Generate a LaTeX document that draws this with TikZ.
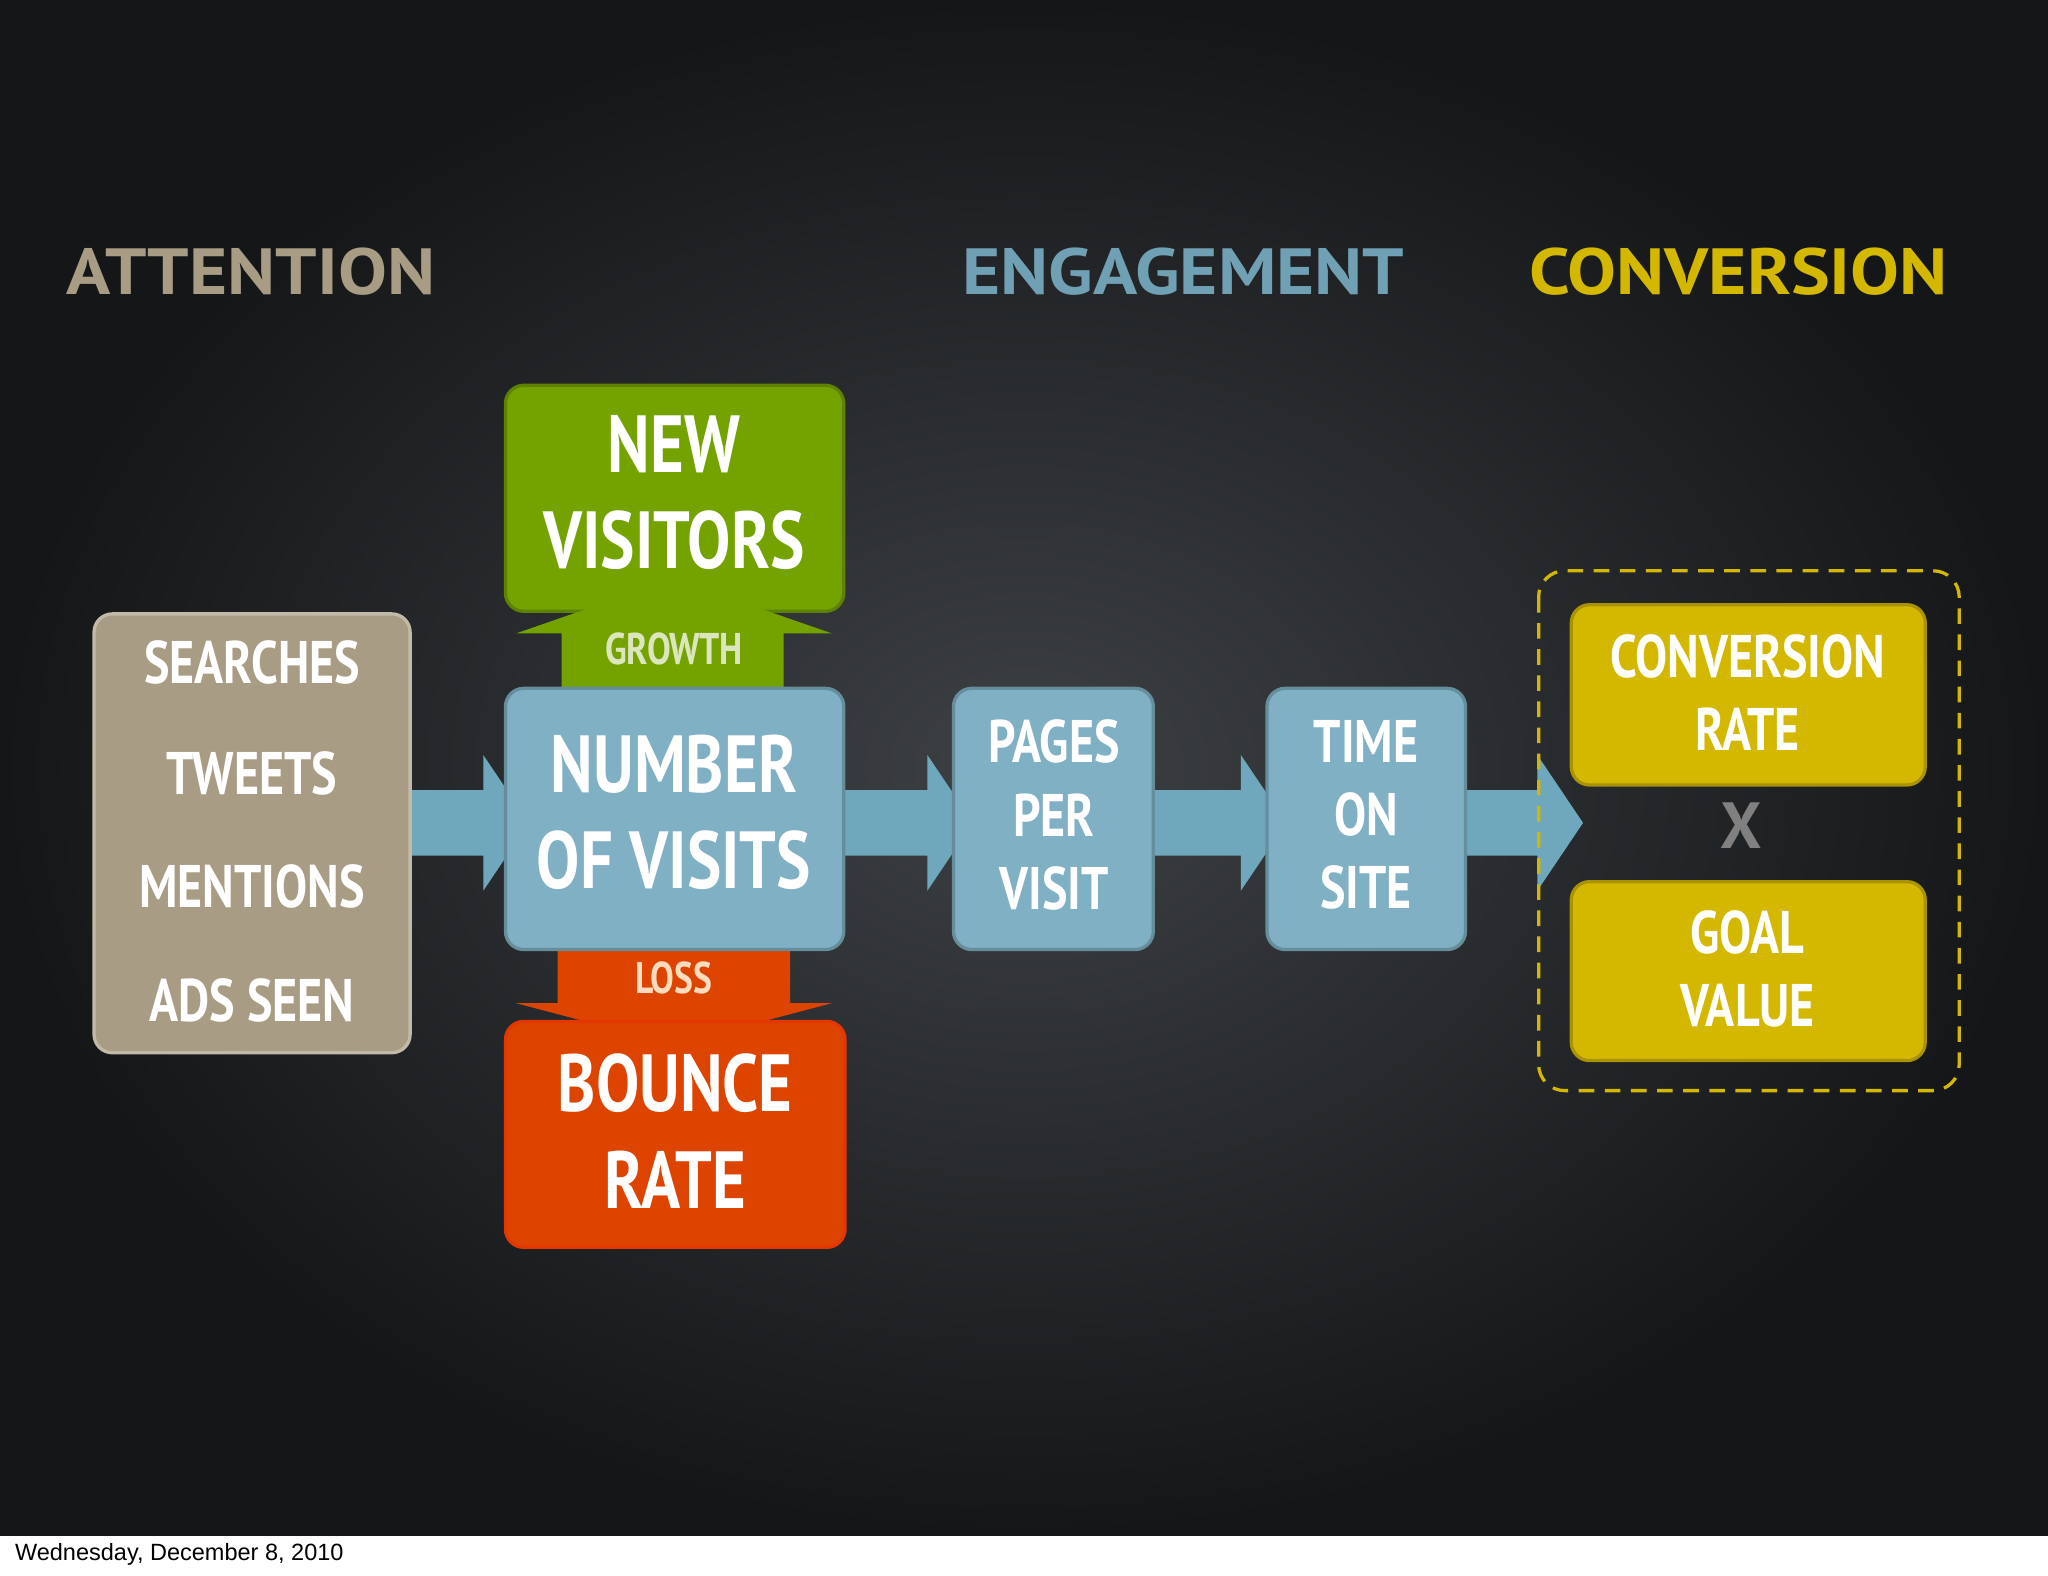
\documentclass[tikz,border=0pt]{standalone}
\usepackage{fontspec}
\setmainfont{PT Sans}
\newfontfamily\narrowf[FakeStretch=0.8]{PT Sans}
\newfontfamily\widef[FakeStretch=1.12]{PT Sans}
\setsansfont{Liberation Sans}
\usetikzlibrary{shadings}
\definecolor{tan}{HTML}{A89C84}
\definecolor{grn}{HTML}{74A300}
\definecolor{blu}{HTML}{7FB0C3}
\definecolor{org}{HTML}{DD4400}
\definecolor{ylw}{HTML}{D4B800}
\definecolor{arr}{HTML}{6FA8BC}
\tikzset{
 box/.style={rounded corners=14pt, line width=2.5pt},
 lbl/.style={text=white, font=\narrowf\bfseries\fontsize{46}{64}\selectfont, align=center},
 big/.style={text=white, font=\narrowf\bfseries\fontsize{62}{80}\selectfont, align=center},
 hdr/.style={font=\widef\bfseries\fontsize{50}{56}\selectfont},
 flow/.style={fill=arr, draw=none}
}
\begin{document}
\begin{tikzpicture}[x=1pt,y=-1pt]
\useasboundingbox (0,0) rectangle (1568,1206);
\shade[inner color={rgb,255:red,62;green,65;blue,68}, outer color={rgb,255:red,20;green,22;blue,24}] (0,0) rectangle (1568,1176);
\fill[white] (0,1176) rectangle (1568,1206);
\node[anchor=west, font=\sffamily\fontsize{18}{20}\selectfont] (date) at (8,1190) {Wednesday, December 8, 2010};
% headers
\node[hdr, text=tan] (h1) at (192,208) {ATTENTION};
\node[hdr, text={rgb,255:red,111;green,160;blue,179}] (h2) at (906,208) {ENGAGEMENT};
\node[hdr, text=ylw] (h3) at (1331,208) {CONVERSION};
% flow arrows
\fill[flow] (310,605) -- (370,605) -- (370,578) -- (405,630) -- (370,682) -- (370,655) -- (310,655) -- cycle;
\fill[flow] (644,605) -- (710,605) -- (710,578) -- (745,630) -- (710,682) -- (710,655) -- (644,655) -- cycle;
\fill[flow] (881,605) -- (950,605) -- (950,578) -- (985,630) -- (950,682) -- (950,655) -- (881,655) -- cycle;
\fill[flow] (1120,605) -- (1177,605) -- (1177,578) -- (1212,630) -- (1177,682) -- (1177,655) -- (1120,655) -- cycle;
% attention box
\draw[box, fill=tan, draw=tan!70!white] (72,470) rectangle (314,806);
\node[lbl] (s) at (193,507) {SEARCHES};
\node[lbl] (t) at (193,592) {TWEETS};
\node[lbl] (m) at (193,679) {MENTIONS};
\node[lbl] (a) at (193,766) {ADS SEEN};
% green
\draw[box, fill=grn, draw=grn!80!black] (387,295) rectangle (646,468);
\fill[grn] (430,528) -- (430,485) -- (395,485) -- (516,443) -- (637,485) -- (600,485) -- (600,528) -- cycle;
\node[big] (nv) at (516,377) {NEW\\[-6pt]VISITORS};
\node[text={rgb,255:red,220;green,230;blue,190}, font=\narrowf\bfseries\fontsize{34}{36}\selectfont] (g) at (516,497) {GROWTH};
% orange
\fill[org] (427,725) -- (427,768) -- (395,768) -- (516,800) -- (637,768) -- (605,768) -- (605,725) -- cycle;
\draw[box, fill=org, draw=org!80!red] (387,782) rectangle (647,955);
\node[text={rgb,255:red,255;green,220;blue,190}, font=\narrowf\bfseries\fontsize{34}{36}\selectfont] (l) at (516,749) {LOSS};
\node[big] (br) at (517,866) {BOUNCE\\[-6pt]RATE};
% number of visits
\draw[box, fill=blu, draw=blu!80!black] (387,527) rectangle (646,727);
\node[big] (nov) at (516,622) {NUMBER\\[-6pt]OF VISITS};
\draw[box, fill=blu, draw=blu!80!black] (730,527) rectangle (883,727);
\node[lbl] (ppv) at (807,624) {PAGES\\[-8pt]PER\\[-8pt]VISIT};
\draw[box, fill=blu, draw=blu!80!black] (970,527) rectangle (1122,727);
\node[lbl] (tos) at (1046,624) {TIME\\[-8pt]ON\\[-8pt]SITE};
% conversion
\draw[ylw, line width=2.5pt, dash pattern=on 12pt off 8pt, rounded corners=20pt] (1178,437) rectangle (1500,835);
\draw[box, fill=ylw, draw=ylw!80!black] (1203,463) rectangle (1474,601);
\node[lbl] (cr) at (1338,530) {CONVERSION\\[-8pt]RATE};
\node[text=gray, font=\bfseries\fontsize{50}{50}\selectfont] (x) at (1333,632) {X};
\draw[box, fill=ylw, draw=ylw!80!black] (1203,675) rectangle (1474,812);
\node[lbl] (gv) at (1338,742) {GOAL\\[-8pt]VALUE};
\end{tikzpicture}
\end{document}
